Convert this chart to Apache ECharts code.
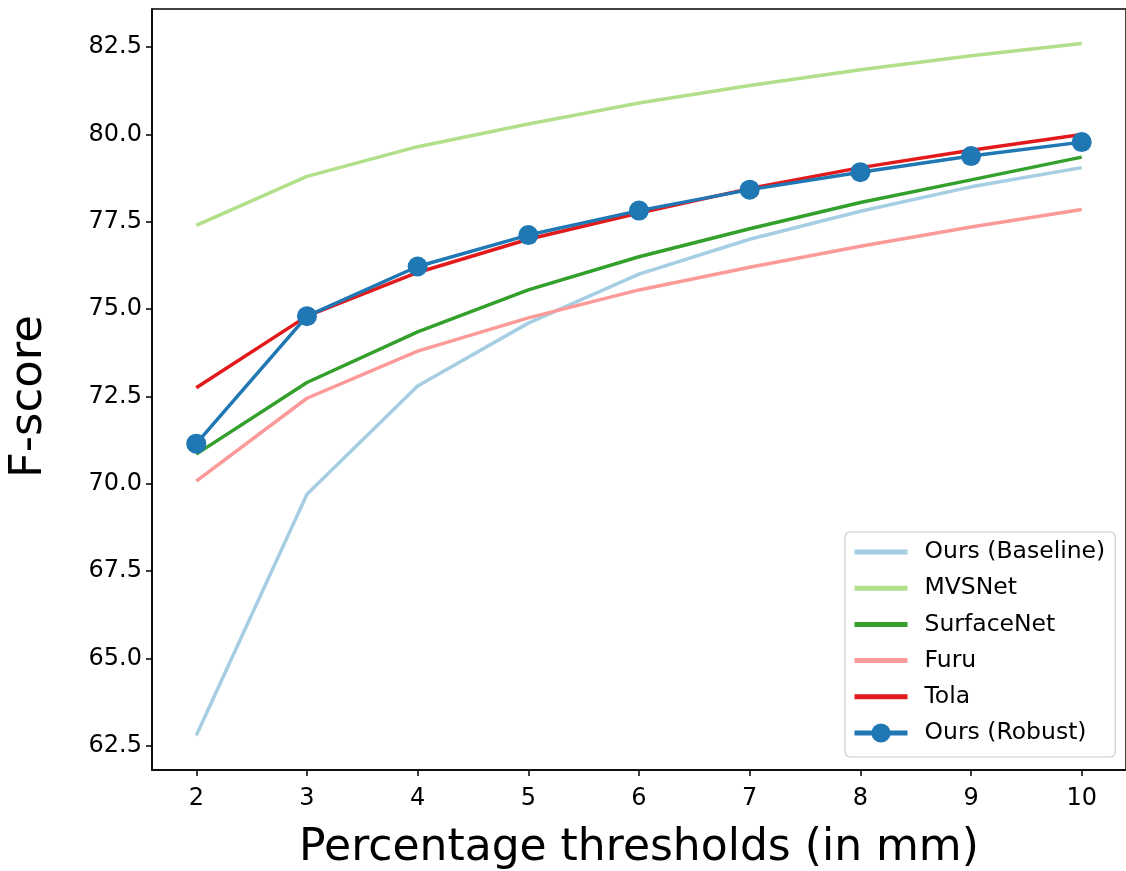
<!DOCTYPE html>
<html>
<head>
<meta charset="utf-8">
<script src="https://cdn.jsdelivr.net/npm/echarts@6/dist/echarts.min.js"></script>
<style>html,body{margin:0;padding:0;background:#fff}#c{width:1126px;height:871px}</style>
</head>
<body>
<div id="c"></div>
<script>
const thresholds = [2, 3, 4, 5, 6, 7, 8, 9, 10];
const baseline   = [62.8, 69.7, 72.8, 74.6, 76.0, 77.0, 77.8, 78.5, 79.05];
const mvsnet     = [77.4, 78.8, 79.65, 80.3, 80.9, 81.4, 81.85, 82.25, 82.6];
const surfacenet = [70.85, 72.9, 74.35, 75.55, 76.5, 77.3, 78.05, 78.7, 79.35];
const furu       = [70.08, 72.45, 73.8, 74.75, 75.55, 76.2, 76.8, 77.35, 77.85];
const tola       = [72.75, 74.8, 76.05, 77.0, 77.75, 78.45, 79.05, 79.55, 80.0];
const robust     = [71.15, 74.8, 76.22, 77.12, 77.82, 78.42, 78.92, 79.38, 79.78];
const xTicks = [2, 3, 4, 5, 6, 7, 8, 9, 10];
const yTicks = [62.5, 65.0, 67.5, 70.0, 72.5, 75.0, 77.5, 80.0, 82.5];

const seriesDefs = [
  ['Ours (Baseline)', baseline, '#a6cee3'],
  ['MVSNet', mvsnet, '#b2df8a'],
  ['SurfaceNet', surfacenet, '#33a02c'],
  ['Furu', furu, '#fb9a99'],
  ['Tola', tola, '#e31a1c'],
  ['Ours (Robust)', robust, '#1f77b4']
];

const font = 'DejaVu Sans';
const chart = echarts.init(document.getElementById('c'), null, {renderer: 'canvas'});
chart.setOption({
  animation: false,
  backgroundColor: '#fff',
  grid: {left: 152, top: 9, right: 0, bottom: 101, show: true, borderColor: '#000', borderWidth: 1.5,
    backgroundColor: 'transparent', containLabel: false, outerBoundsMode: 'none'},
  legend: {
    orient: 'vertical', left: 845, top: 532,
    itemWidth: 53, itemHeight: 24, itemGap: 12.2,
    padding: [8, 10, 12, 7],
    borderColor: '#cccccc', borderWidth: 1.2, borderRadius: 5,
    backgroundColor: 'rgba(255,255,255,0.85)',
    textStyle: {fontFamily: font, fontSize: 23.5, color: '#000', padding: [0, 0, 0, 12]},
    data: seriesDefs.map((d, i) => {
      const item = {name: d[0], lineStyle: {width: 5, color: d[2]}};
      if (i < 5) item.itemStyle = {opacity: 0};
      return item;
    })
  },
  xAxis: {
    type: 'value', min: 1.6, max: 10.4,
    name: 'Percentage thresholds (in mm)', nameLocation: 'middle', nameGap: 57,
    nameTextStyle: {fontFamily: font, fontSize: 44, color: '#000'},
    axisLine: {show: true, lineStyle: {color: '#000', width: 1.5}},
    axisTick: {show: true, length: 6, inside: false, customValues: xTicks, lineStyle: {color: '#000', width: 1.5}},
    axisLabel: {fontFamily: font, fontSize: 24, color: '#000', margin: 17, customValues: xTicks},
    splitLine: {show: false}
  },
  yAxis: {
    type: 'value', min: 61.81, max: 83.59,
    name: 'F-score', nameLocation: 'middle', nameGap: 100, nameRotate: 90,
    nameTextStyle: {fontFamily: font, fontSize: 45, color: '#000', padding: [0, 14, 0, 0]},
    axisLine: {show: true, lineStyle: {color: '#000', width: 1.5}},
    axisTick: {show: true, length: 6, inside: false, customValues: yTicks, lineStyle: {color: '#000', width: 1.5}},
    axisLabel: {fontFamily: font, fontSize: 24, color: '#000', margin: 10, customValues: yTicks,
      formatter: v => Number(v).toFixed(1)},
    splitLine: {show: false}
  },
  series: seriesDefs.map((d, i) => {
    const isRobust = i === 5;
    return {
      name: d[0], type: 'line',
      data: thresholds.map((t, j) => [t, d[1][j]]),
      symbol: isRobust ? 'circle' : 'none',
      symbolSize: isRobust ? 20 : 0,
      showSymbol: isRobust,
      color: d[2],
      itemStyle: {color: d[2]},
      lineStyle: {color: d[2], width: 3.5},
      z: 2 + i,
      emphasis: {disabled: true}
    };
  })
});
</script>
</body>
</html>
